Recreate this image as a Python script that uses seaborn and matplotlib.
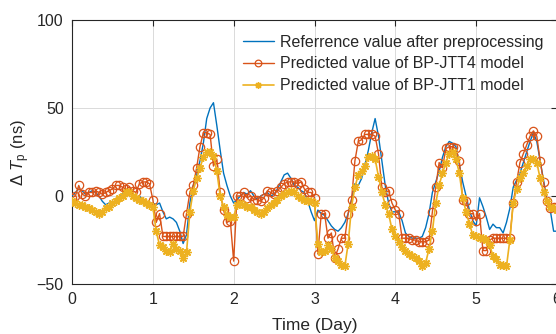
import numpy as np
import pandas as pd
import matplotlib
matplotlib.use("Agg")
import matplotlib.pyplot as plt
import seaborn as sns

# Hourly samples over six days
hours_per_day = 24
n_days = 6

reference = [
    # day 0
    0, 2, 4, 3, 1, 2, 3, 2, 0, -3, -5, -4, -5, -3, -1, 1, 3, 2, 0, -1, 0, -2, -3, -6,
    # day 1
    -4, -5, -4, -9, -13, -12, -13, -15, -20, -27, -22, -4, 6, 12, 20, 30, 44, 50, 53, 40, 26, 13, 6, 0,
    # day 2
    -4, -2, 0, 2, 1, 3, 0, -2, 0, 1, 2, 0, 1, 4, 8, 12, 13, 10, 6, 5, 3, 2, -3, -9,
    # day 3
    -14, -8, -10, -11, -14, -17, -19, -20, -18, -15, -10, -2, 7, 6, 10, 18, 26, 36, 44, 34, 20, 6, -4, -9,
    # day 4
    -9, -9, -14, -21, -23, -24, -24, -24, -23, -18, -10, 2, 8, 14, 22, 28, 31, 30, 28, 18, 8, 0, -8, -14,
    # day 5
    -17, -1, -6, -12, -19, -16, -18, -18, -21, -15, -7, 5, 9, 13, 19, 25, 31, 36, 31, 20, 9, -2, -8, -20,
    -20,
]

bp_jtt4 = [
    # day 0
    -1, 0, 6, 1, 0, 2, 2, 3, 2, 1, 2, 3, 4, 6, 6, 5, 4, 5, 3, 2, 7, 8, 8, 7,
    # day 1
    -2, -15, -10, -23, -23, -23, -23, -23, -23, -23, -10, 2, 6, 16, 28, 36, 36, 35, 17, 21, 2, -8, -15, -14,
    # day 2
    -37, 0, 0, 2, -1, 0, -2, -2, -3, -1, 3, 2, 1, 3, 5, 7, 8, 8, 8, 7, 8, 4, 2, 2,
    # day 3
    -1, -33, -10, -10, -24, -21, -35, -30, -24, -24, -10, -2, 20, 31, 32, 35, 35, 35, 34, 24, 5, 2, 3, -4,
    # day 4
    -8, -10, -24, -24, -24, -25, -25, -26, -26, -26, -25, -9, 5, 19, 16, 27, 28, 28, 27, 20, -2, -3, -10, -10,
    # day 5
    -14, -10, -31, -31, -25, -24, -24, -24, -24, -24, -24, -4, 8, 19, 24, 29, 34, 37, 34, 20, 8, -3, -7, -6,
    -6,
]

bp_jtt1 = [
    # day 0
    -3, -4, -5, -5, -6, -7, -8, -9, -10, -9, -7, -6, -4, -3, -1, 0, 2, 2, 0, -1, -2, -3, -4, -5,
    # day 1
    -6, -20, -28, -29, -31, -32, -27, -30, -31, -35, -32, -9, 3, 10, 16, 22, 25, 25, 23, 14, 0, -6, -11, -12,
    # day 2
    -12, -5, -4, -5, -6, -6, -8, -9, -10, -9, -7, -5, -4, -2, 0, 1, 2, 3, 2, 0, -1, -2, -3, -3,
    # day 3
    -4, -27, -32, -31, -28, -30, -35, -37, -39, -40, -27, -6, 5, 12, 14, 17, 22, 23, 21, 11, 2, -5, -10, -19,
    # day 4
    -23, -26, -29, -31, -33, -34, -35, -37, -40, -38, -30, -20, -4, 6, 13, 19, 24, 25, 21, 13, -1, -9, -16, -22,
    # day 5
    -23, -24, -24, -25, -28, -34, -36, -39, -39, -40, -25, -4, 4, 10, 13, 17, 21, 21, 19, 10, 2, -3, -6, -7,
    -8,
]

labels = [
    "Referrence value after preprocessing",
    "Predicted value of BP-JTT4 model",
    "Predicted value of BP-JTT1 model",
]
colors = ["#0072BD", "#D95319", "#EDB120"]
x_ticks = [0, 1, 2, 3, 4, 5, 6]
y_ticks = [-50, 0, 50, 100]

time_day = np.arange(hours_per_day * n_days + 1) / hours_per_day
df = pd.DataFrame({
    "t": time_day,
    "ref": reference,
    "jtt4": bp_jtt4,
    "jtt1": bp_jtt1,
})

sns.set_style("white")
plt.rcParams["font.family"] = ["Liberation Sans", "DejaVu Sans"]
plt.rcParams["mathtext.fontset"] = "custom"
plt.rcParams["mathtext.rm"] = "Liberation Sans"
plt.rcParams["mathtext.it"] = "Liberation Sans:italic"

fig = plt.figure(figsize=(5.56, 3.34), dpi=100)
ax = fig.add_axes([72 / 556, 50 / 334, 485 / 556, 264 / 334])

sns.lineplot(data=df, x="t", y="ref", ax=ax, color=colors[0], lw=1.0,
             label=labels[0], zorder=3)
sns.lineplot(data=df, x="t", y="jtt4", ax=ax, color=colors[1], lw=1.0,
             marker="o", markersize=6, markerfacecolor="none",
             markeredgecolor=colors[1], markeredgewidth=0.9,
             label=labels[1], zorder=4)
sns.lineplot(data=df, x="t", y="jtt1", ax=ax, color=colors[2], lw=1.2,
             marker=(8, 2, 0), markersize=6, markeredgecolor=colors[2],
             markeredgewidth=1.0, label=labels[2], zorder=5)

ax.set_xlim(0, 6)
ax.set_ylim(-50, 100)
ax.set_xticks(x_ticks)
ax.set_yticks(y_ticks)
ax.grid(True, color="#DADADA", lw=0.7)
ax.set_axisbelow(True)
for s in ax.spines.values():
    s.set_color("#262626")
    s.set_linewidth(0.8)
ax.tick_params(direction="in", length=4, width=0.8, color="#262626",
               top=True, right=True, labelsize=11.5, labelcolor="#262626",
               pad=6)

ax.set_xlabel("Time (Day)", fontsize=12.5, color="#262626", labelpad=8)
ax.set_ylabel(r"$\Delta$ $T_{\rm p}$ (ns)", fontsize=12, color="#262626",
              labelpad=3)

leg = ax.legend(loc="upper left", bbox_to_anchor=(0.352, 0.945), frameon=False,
                fontsize=11.5, handlelength=1.95, handletextpad=0.4,
                labelspacing=0.43, borderpad=0, borderaxespad=0,
                markerscale=0.8)

fig.savefig("out.png", dpi=100)
